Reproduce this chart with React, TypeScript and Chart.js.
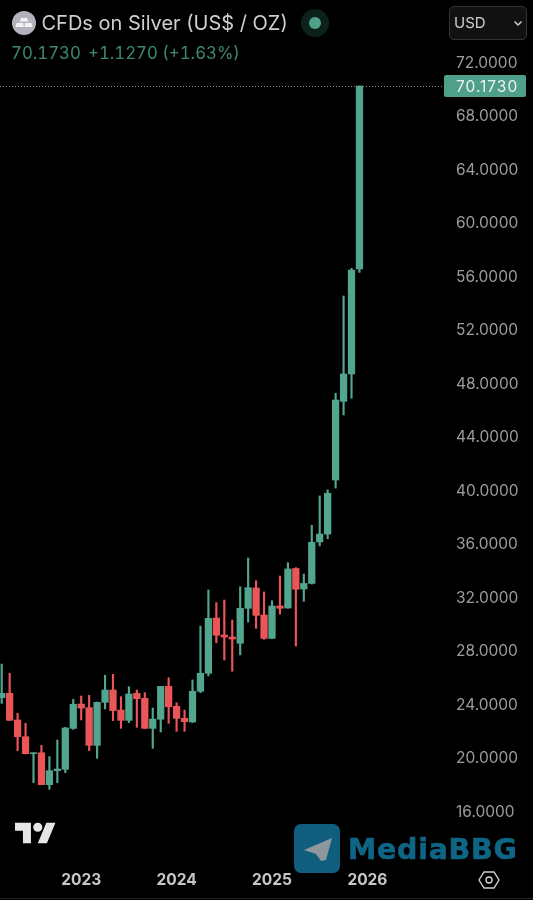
import { useEffect, useRef } from "react";
import { Chart, registerables } from "chart.js";

Chart.register(...registerables);

// monthly candles, oldest first
const opens = [
  24.44, 24.76, 22.77, 21.52, 20.25, 20.32, 17.93, 18.98, 19.08, 22.14, 23.96, 23.69,
  20.87, 24.09, 25.01, 23.51, 22.74, 24.76, 24.39, 22.14, 22.82, 25.28, 23.79, 22.89,
  22.62, 24.91, 26.26, 30.39, 29.12, 28.97, 28.5, 31.12, 32.64, 30.62, 28.87, 31.29,
  31.14, 34.1, 32.56, 32.98, 36.08, 36.67, 40.71, 46.59, 48.64, 56.49,
];
const highs = [
  26.95, 26.26, 23.27, 22.52, 20.32, 20.87, 20.03, 21.27, 22.22, 24.31, 24.56, 24.61,
  24.11, 26.11, 26.18, 24.51, 25.26, 25.01, 24.81, 23.66, 25.28, 25.93, 24.06, 23.51,
  25.76, 29.79, 32.49, 31.54, 31.74, 30.24, 32.73, 34.88, 33.18, 32.34, 31.69, 33.53,
  34.53, 34.16, 33.68, 37.32, 39.52, 39.97, 47.19, 54.47, 56.54, 70.173,
];
const lows = [
  24.01, 22.74, 20.47, 20.23, 18.08, 17.93, 17.58, 18.08, 18.83, 22.07, 22.77, 20.47,
  19.9, 23.59, 22.72, 22.14, 22.57, 22.22, 22.14, 20.65, 21.87, 22.52, 21.92, 21.92,
  22.57, 24.81, 26.06, 28.55, 27.25, 26.41, 27.63, 30.09, 29.62, 28.8, 28.85, 30.69,
  31.12, 28.3, 31.64, 32.93, 35.78, 36.32, 40.11, 45.57, 46.82, 56.24,
];
const closes = [
  24.76, 22.74, 21.52, 20.25, 20.32, 17.93, 18.98, 19.1, 22.17, 23.94, 23.66, 20.87,
  24.09, 25.01, 23.47, 22.74, 24.71, 24.36, 22.14, 22.84, 25.28, 23.76, 22.89, 22.64,
  24.91, 26.26, 30.37, 29.1, 28.97, 28.82, 31.12, 32.66, 30.59, 28.87, 31.29, 31.12,
  34.06, 32.54, 32.98, 36.05, 36.67, 39.72, 46.69, 48.64, 56.41, 70.173,
];

const priceTicks = [16, 20, 24, 28, 32, 36, 40, 44, 48, 52, 56, 60, 64, 68, 72];
const yearLabels = ["2023", "2024", "2025", "2026"];
const yearCandles = [10, 22, 34, 46]; // candle index of each january
const lastPrice = 70.173;

const GREEN = "#52a68f";
const RED = "#ea5558";
const FONT = "Inter, sans-serif";

const candleColors = closes.map((c, i) => (c >= opens[i] ? GREEN : RED));

const lastPricePlugin = {
  id: "lastPrice",
  afterDatasetsDraw(chart: any) {
    const { ctx, chartArea, scales } = chart;
    const y = scales.y.getPixelForValue(lastPrice);
    ctx.save();
    ctx.strokeStyle = "#8a8a8a";
    ctx.lineWidth = 1;
    ctx.setLineDash([1, 2]);
    ctx.beginPath();
    ctx.moveTo(0, Math.round(y) + 0.5);
    ctx.lineTo(chartArea.right, Math.round(y) + 0.5);
    ctx.stroke();
    ctx.setLineDash([]);
    ctx.fillStyle = "#4ea08a";
    ctx.beginPath();
    ctx.roundRect(chartArea.right - 1, y - 11, 82, 22, 2);
    ctx.fill();
    ctx.fillStyle = "#f0f0f0";
    ctx.font = "15.5px " + FONT;
    ctx.letterSpacing = "1px";
    ctx.textAlign = "left";
    ctx.textBaseline = "middle";
    ctx.fillText(lastPrice.toFixed(4), chartArea.right + 11, y + 1);
    ctx.restore();
  },
};

export default function App() {
  const canvasRef = useRef<HTMLCanvasElement | null>(null);

  useEffect(() => {
    if (!canvasRef.current) return;
    const chart = new Chart(canvasRef.current, {
      type: "bar",
      data: {
        datasets: [
          {
            label: "Wicks",
            data: highs.map((h, i) => ({ x: i, y: [lows[i], h] })) as any,
            backgroundColor: candleColors,
            barThickness: 1.5,
            grouped: false,
            order: 2,
          },
          {
            label: "Bodies",
            data: closes.map((c, i) => ({ x: i, y: [opens[i], c] })) as any,
            backgroundColor: candleColors,
            barThickness: 6.6,
            grouped: false,
            order: 1,
          },
        ],
      },
      options: {
        responsive: false,
        animation: false,
        devicePixelRatio: 1,
        layout: { padding: 0 },
        plugins: { legend: { display: false }, tooltip: { enabled: false } },
        scales: {
          x: {
            type: "linear",
            offset: false,
            min: -0.214,
            max: 55.76,
            grid: { display: false, drawTicks: false },
            border: { display: false },
            afterBuildTicks: (s: any) => {
              s.ticks = yearCandles.map((value) => ({ value }));
            },
            afterFit: (s: any) => {
              s.height = 38;
              s.paddingLeft = 0;
              s.paddingRight = 0;
            },
            ticks: {
              autoSkip: false,
              maxRotation: 0,
              padding: 9,
              color: "#c6c6c6",
              font: { family: FONT, size: 15.5, weight: "bold" },
              callback: (v: any) => yearLabels[yearCandles.indexOf(v)],
            },
          },
          y: {
            type: "linear",
            position: "right",
            min: 12.15,
            max: 76.6,
            grid: { display: false, drawTicks: false },
            border: { display: false },
            afterBuildTicks: (s: any) => {
              s.ticks = priceTicks.map((value) => ({ value }));
            },
            afterFit: (s: any) => {
              s.width = 88;
              s.paddingTop = 0;
              s.paddingBottom = 0;
            },
            ticks: {
              padding: 11,
              labelOffset: 1.5,
              crossAlign: "near",
              color: "#9c9c9c",
              font: { family: FONT, size: 15.5 },
              callback: (v: any) => Number(v).toFixed(4),
            },
          },
        },
      },
      plugins: [lastPricePlugin],
    });
    return () => {
      chart.destroy();
    };
  }, []);

  const text = (left: number, top: number, size: number, color: string, extra = {}) => ({
    position: "absolute" as const,
    left,
    top,
    fontSize: size,
    lineHeight: "24px",
    color,
    fontFamily: FONT,
    whiteSpace: "nowrap" as const,
    ...extra,
  });

  return (
    <div style={{ position: "absolute", left: 0, top: 0, width: 533, height: 900, background: "#000", overflow: "hidden" }}>
      <canvas ref={canvasRef} width={533} height={900} style={{ display: "block" }} />

      {/* header */}
      <svg style={{ position: "absolute", left: 11, top: 10 }} width={26} height={26} viewBox="0 0 26 26">
        <circle cx={13} cy={13} r={12} fill="#b4b2bc" />
        <path d="M10 8h6l1.5 3.5h-9zM5.5 13h6.5l1 4H4.5zM14 13h6.5l1 4h-8z" fill="#f2f2f2" />
      </svg>
      <div style={text(41.5, 11, 20, "#cfcfcf")}>CFDs on Silver (US$ / OZ)</div>
      <svg style={{ position: "absolute", left: 300, top: 8 }} width={30} height={30} viewBox="0 0 30 30">
        <circle cx={15} cy={15} r={14} fill="#0b2119" />
        <circle cx={15} cy={15} r={6} fill="#4ea08a" />
      </svg>
      <div style={text(11, 41, 16.8, "#3e8a75", { fontVariantNumeric: "tabular-nums" })}>70.1730</div>
      <div style={text(88, 41, 16.8, "#3e8a75", { fontVariantNumeric: "tabular-nums" })}>+1.1270 (+1.63%)</div>

      <div style={{ position: "absolute", left: 449, top: 6, width: 78, height: 34, boxSizing: "border-box", border: "1px solid #333", borderRadius: 5, background: "#111" }} />
      <div style={text(454, 11, 15, "#cfcfcf")}>USD</div>
      <svg style={{ position: "absolute", left: 513, top: 20 }} width={10} height={7} viewBox="0 0 10 7">
        <path d="M1.5 1.5 5 5l3.5-3.5" fill="none" stroke="#cfcfcf" strokeWidth={1.5} />
      </svg>

      {/* tradingview logo */}
      <svg style={{ position: "absolute", left: 15, top: 818 }} width={41} height={30} viewBox="0 0 36 26">
        <path d="M14 22H7V11H0V4h14v18zM28 22h-8l7.5-18h8L28 22z" fill="#e6e6e6" />
        <circle cx={20} cy={8} r={4} fill="#e6e6e6" />
      </svg>

      {/* watermark */}
      <svg style={{ position: "absolute", left: 294, top: 824 }} width={46} height={49} viewBox="0 0 46 49">
        <rect width={46} height={49} rx={7} fill="#0f5e7e" />
        <path d="M38 14 10 26l12 4 5 7 5-1z" fill="#8e989c" />
      </svg>
      <div style={{ ...text(348, 836, 28.5, "#0f6585"), fontFamily: "'DejaVu Sans', sans-serif", fontWeight: 700, lineHeight: "28px", letterSpacing: 0.7, WebkitTextStroke: "0.6px #0f6585" }}>MediaBBG</div>

      {/* settings hexagon */}
      <svg style={{ position: "absolute", left: 478, top: 870 }} width={22} height={20} viewBox="0 0 22 20">
        <path d="M6 2h10l5 8-5 8H6l-5-8z" fill="none" stroke="#cfcfcf" strokeWidth={1.4} />
        <circle cx={11} cy={10} r={3} fill="none" stroke="#cfcfcf" strokeWidth={1.4} />
      </svg>
      <div style={{ position: "absolute", left: 0, top: 898, width: 533, height: 1, background: "#222" }} />
    </div>
  );
}
